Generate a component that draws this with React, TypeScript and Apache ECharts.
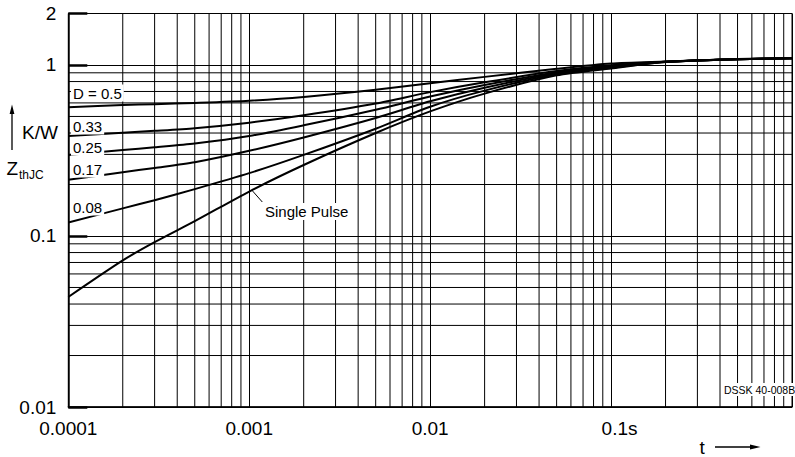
import React, { useEffect, useRef } from "react";
import * as echarts from "echarts";

// ---- data (t in s, Z in K/W) ----
const tValues = [1e-4, 2e-4, 3e-4, 5e-4, 1e-3, 2e-3, 5e-3, 1e-2, 2e-2, 5e-2, 0.1, 0.2, 0.5, 1];
const zD050 = [0.566, 0.583, 0.59, 0.6, 0.618, 0.65, 0.716, 0.783, 0.852, 0.95, 1.02, 1.048, 1.083, 1.095];
const zD033 = [0.384, 0.402, 0.412, 0.427, 0.46, 0.508, 0.595, 0.694, 0.792, 0.921, 0.996, 1.045, 1.082, 1.095];
const zD025 = [0.298, 0.318, 0.33, 0.347, 0.384, 0.444, 0.547, 0.654, 0.763, 0.908, 0.986, 1.044, 1.08, 1.095];
const zD017 = [0.213, 0.236, 0.25, 0.27, 0.315, 0.377, 0.49, 0.613, 0.736, 0.895, 0.975, 1.043, 1.08, 1.095];
const zD008 = [0.12, 0.145, 0.162, 0.188, 0.233, 0.298, 0.424, 0.57, 0.708, 0.882, 0.964, 1.042, 1.08, 1.095];
const zSingle = [0.044, 0.072, 0.092, 0.122, 0.182, 0.26, 0.4, 0.535, 0.68, 0.87, 0.955, 1.04, 1.08, 1.095];

const xTickValues = [1e-4, 1e-3, 1e-2, 1e-1, 1];
const xTickLabels = ["0.0001", "0.001", "0.01", "0.1", ""];
const xUnit = "s";
const yTickValues = [0.01, 0.1, 1, 2];
const yTickLabels = ["0.01", "0.1", "1", "2"];

const X_MIN = 1e-4;
const X_MAX = 1;
const Y_MIN = 0.01;
const Y_MAX = 2;

const xMinorGrid = [
  2e-4, 3e-4, 4e-4, 5e-4, 6e-4, 7e-4, 8e-4, 9e-4,
  2e-3, 3e-3, 4e-3, 5e-3, 6e-3, 7e-3, 8e-3, 9e-3,
  2e-2, 3e-2, 4e-2, 5e-2, 6e-2, 7e-2, 8e-2, 9e-2,
  0.2, 0.3, 0.4, 0.5, 0.6, 0.7, 0.8, 0.9,
];
const yMinorGrid = [
  0.02, 0.03, 0.04, 0.05, 0.06, 0.07, 0.08, 0.09,
  0.2, 0.3, 0.4, 0.5, 0.6, 0.7, 0.8, 0.9,
];

const FONT = '"Liberation Sans", Arial, Helvetica, sans-serif';

function pickLabel(v: number, values: number[], labels: string[]) {
  let best = 0;
  let bd = Infinity;
  values.forEach((tv, i) => {
    const d = Math.abs(Math.log10(v) - Math.log10(tv));
    if (d < bd) {
      bd = d;
      best = i;
    }
  });
  return bd < 0.01 ? labels[best] : "";
}

export default function App() {
  const ref = useRef<HTMLDivElement>(null);

  useEffect(() => {
    if (!ref.current) return;
    const chart = echarts.init(ref.current, undefined, { renderer: "svg" });

    const curve = (z: number[]) => ({
      type: "line",
      data: tValues.map((t, i) => [t, z[i]]),
      symbol: "none",
      smooth: 0.25,
      lineStyle: { color: "#000", width: 2, join: "round" },
      z: 5,
      silent: true,
    });

    const txt = (
      text: string,
      x: number,
      y: number,
      size: number,
      bg = false,
      extra: any = {}
    ) => ({
      type: "text",
      x,
      y,
      z: 20,
      silent: true,
      style: {
        text,
        fill: "#000",
        font: `${size}px ${FONT}`,
        textAlign: "left",
        textVerticalAlign: "middle",
        ...(bg ? { backgroundColor: "#fff", padding: [1, 2, 1, 2] } : {}),
        ...extra,
      },
    });

    chart.setOption({
      animation: false,
      backgroundColor: "#fff",
      grid: {
        left: 68.3,
        right: -3.3,
        top: 13.5,
        bottom: 50,
        show: true,
        borderColor: "#000",
        borderWidth: 1,
        backgroundColor: "transparent",
      },
      xAxis: {
        type: "log",
        logBase: 10,
        min: X_MIN,
        max: X_MAX,
        axisLine: { show: true, lineStyle: { color: "#000", width: 1.5 } },
        axisTick: { show: false },
        splitLine: { show: true, lineStyle: { color: "#000", width: 1 } },
        axisLabel: {
          color: "#000",
          fontFamily: FONT,
          fontSize: 19,
          margin: 12,
          formatter: (v: number) => {
            const l = pickLabel(v, xTickValues, xTickLabels);
            if (l === "0.1") return `{n|${l}}{s|${xUnit}}`;
            return l;
          },
          rich: {
            n: { fontFamily: FONT, fontSize: 19, color: "#000", padding: [0, 0, 0, 17] },
            s: { fontFamily: FONT, fontSize: 19, color: "#000" },
          },
        },
      },
      yAxis: {
        type: "log",
        logBase: 10,
        min: Y_MIN,
        max: Y_MAX,
        axisLine: { show: true, lineStyle: { color: "#000", width: 1.5 } },
        axisTick: { show: true, inside: true, length: 19, lineStyle: { color: "#000", width: 2.5 } },
        splitLine: { show: true, lineStyle: { color: "#000", width: 1 } },
        axisLabel: {
          color: "#000",
          fontFamily: FONT,
          fontSize: 19,
          margin: 12,
          formatter: (v: number) => pickLabel(v, yTickValues, yTickLabels),
        },
      },
      series: [
        {
          type: "custom",
          silent: true,
          z: 1,
          clip: true,
          data: xMinorGrid.map((v) => [v, Y_MIN]),
          renderItem: (_p: any, api: any) => {
            const v = api.value(0);
            const a = api.coord([v, Y_MIN]);
            const b = api.coord([v, Y_MAX]);
            return {
              type: "line",
              shape: { x1: a[0], y1: a[1], x2: b[0], y2: b[1] },
              style: { stroke: "#000", lineWidth: 1 },
            };
          },
        },
        {
          type: "custom",
          silent: true,
          z: 1,
          clip: true,
          data: yMinorGrid.map((v) => [X_MIN, v]),
          renderItem: (_p: any, api: any) => {
            const v = api.value(1);
            const a = api.coord([X_MIN, v]);
            const b = api.coord([X_MAX, v]);
            return {
              type: "line",
              shape: { x1: a[0], y1: a[1], x2: b[0], y2: b[1] },
              style: { stroke: "#000", lineWidth: 1 },
            };
          },
        },
        curve(zD050),
        curve(zD033),
        curve(zD025),
        curve(zD017),
        curve(zD008),
        curve(zSingle),
      ],
      graphic: [
        txt("D = 0.5", 71, 93, 15, true),
        txt("0.33", 71, 126, 15, true),
        txt("0.25", 71, 147, 15, true),
        txt("0.17", 71, 169, 15, true),
        txt("0.08", 71, 207, 15, true),
        txt("Single Pulse", 263, 211.5, 15, true),
        {
          type: "line",
          z: 20,
          silent: true,
          shape: { x1: 251.7, y1: 190, x2: 262.3, y2: 202 },
          style: { stroke: "#000", lineWidth: 1 },
        },
        txt("DSSK 40-008B", 722, 389.5, 10.5, true),
        // y axis name
        {
          type: "line",
          z: 20,
          silent: true,
          shape: { x1: 12, y1: 150, x2: 12, y2: 110 },
          style: { stroke: "#000", lineWidth: 1.3 },
        },
        {
          type: "polygon",
          z: 20,
          silent: true,
          shape: { points: [[12, 104.5], [9.6, 114], [14.4, 114]] },
          style: { fill: "#000" },
        },
        txt("K/W", 22, 132.5, 19),
        txt("Z", 6.5, 168.5, 19),
        txt("thJC", 19, 175, 12),
        // x axis name
        txt("t", 699.5, 447, 19),
        {
          type: "line",
          z: 20,
          silent: true,
          shape: { x1: 715, y1: 447, x2: 754, y2: 447 },
          style: { stroke: "#000", lineWidth: 1.3 },
        },
        {
          type: "polygon",
          z: 20,
          silent: true,
          shape: { points: [[760.5, 447], [750, 444.5], [750, 449.5]] },
          style: { fill: "#000" },
        },
      ],
    });

    return () => chart.dispose();
  }, []);

  return (
    <div
      ref={ref}
      style={{ position: "fixed", left: 0, top: 0, width: 795, height: 457, background: "#fff" }}
    />
  );
}
